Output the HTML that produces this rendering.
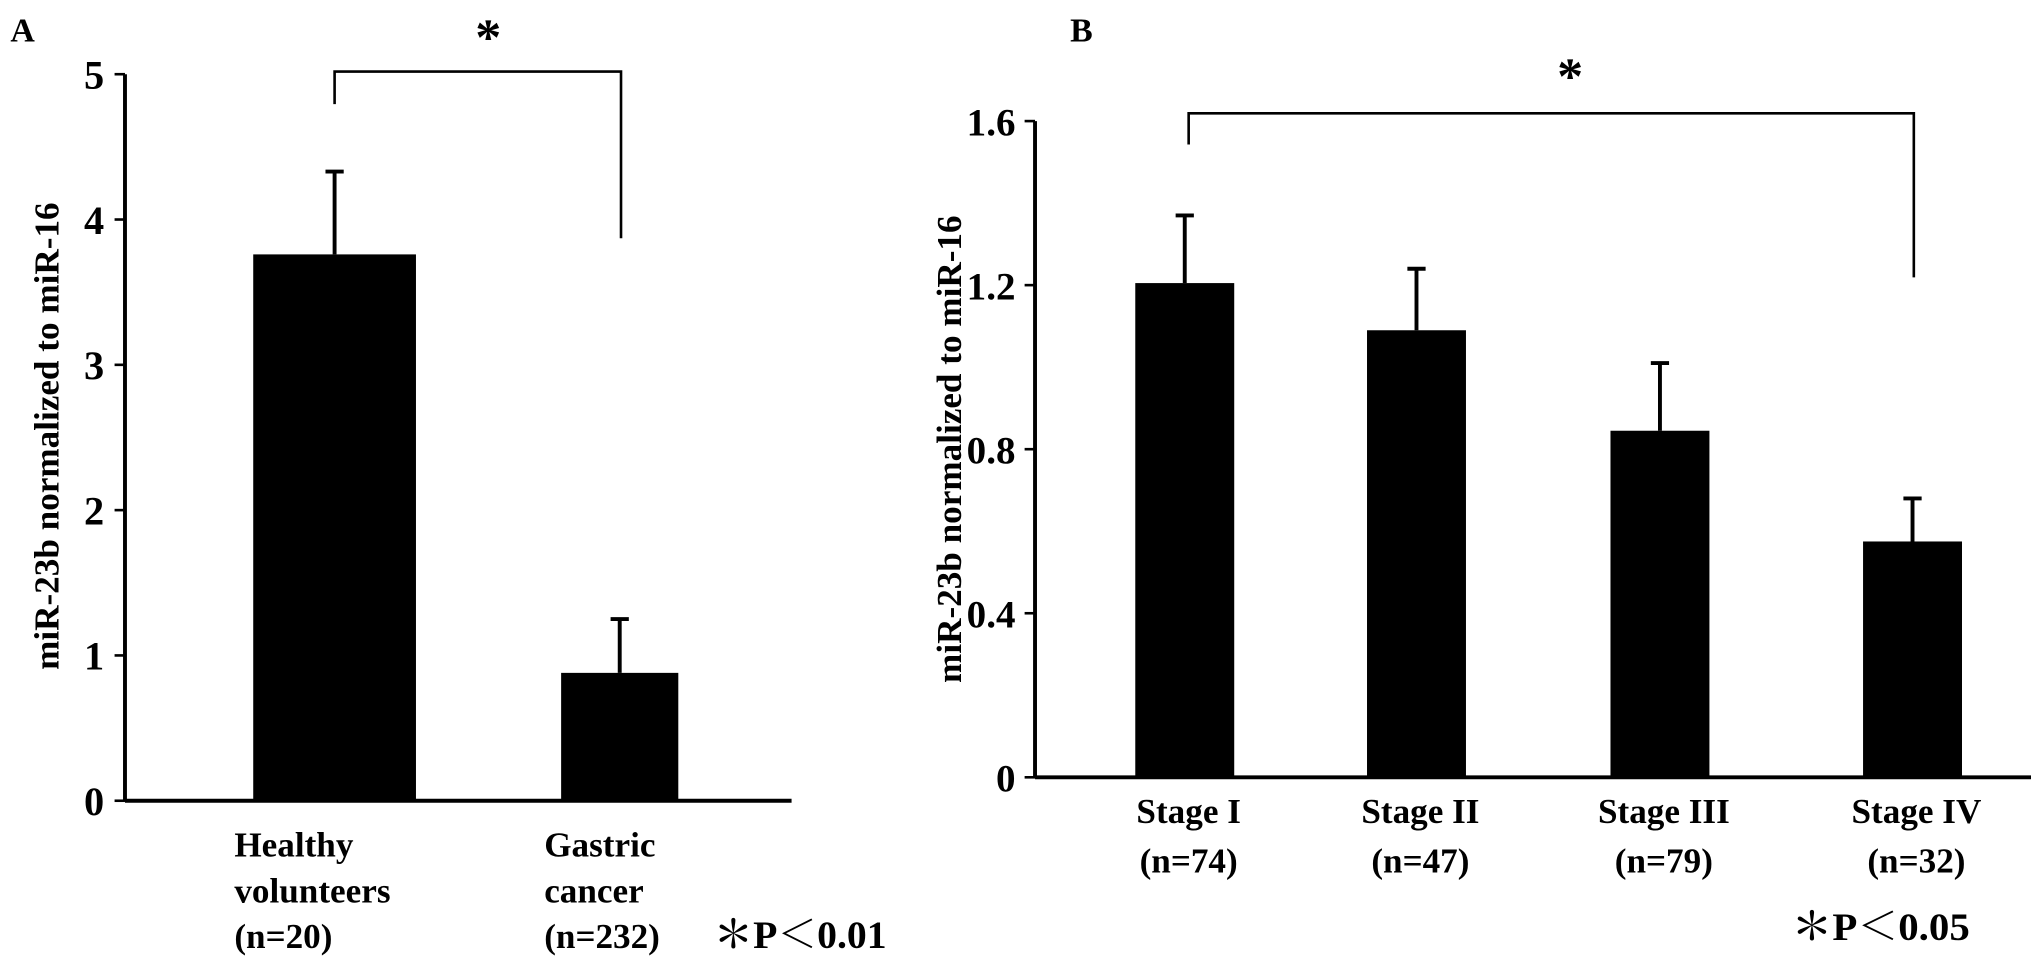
<!DOCTYPE html>
<html><head><meta charset="utf-8"><style>
body{margin:0;background:#fff;overflow:hidden}
svg{display:block}
svg text{font-family:"Liberation Serif","Noto Serif CJK SC",serif;font-weight:bold;fill:#000}
</style></head><body>
<svg width="2031" height="970" viewBox="0 0 1560 745" preserveAspectRatio="none">
<g id="A"></g>
<g id="B"></g>
</svg>
<script>
const catsA=["Healthy volunteers (n=20)","Gastric cancer (n=232)"];
const valsA=[3.76,0.88];
const errA=[0.57,0.37];
const ticksA=[0,1,2,3,4,5];
const catsB=["Stage I (n=74)","Stage II (n=47)","Stage III (n=79)","Stage IV (n=32)"];
const valsB=[1.205,1.09,0.845,0.575];
const errB=[0.165,0.15,0.165,0.105];
const ticksB=[0,0.4,0.8,1.2,1.6];
const NS="http://www.w3.org/2000/svg";
function mk(p,t,a,txt){const e=document.createElementNS(NS,t);for(const k in a)e.setAttribute(k,a[k]);if(txt!==undefined)e.textContent=txt;p.appendChild(e);return e;}
// Panel A
const A=document.getElementById('A');
const yA=v=>615-v*111.6;
const xAc=[257,476],bwA=[125,90];
let t=mk(A,'text',{x:8,y:32,'font-size':26},'A');


let l=mk(A,'line',{x1:96,y1:yA(5),x2:96,y2:615,stroke:'#000','stroke-width':3});


l=mk(A,'line',{x1:96,y1:615,x2:608,y2:615,stroke:'#000','stroke-width':3});


ticksA.forEach(v=>{
 mk(A,'line',{x1:88,y1:yA(v),x2:96,y2:yA(v),stroke:'#000','stroke-width':2});
 const tt=mk(A,'text',{x:80,y:yA(v)+11,'font-size':31,'text-anchor':'end'},v);
 
 
});
t=mk(A,'text',{x:0,y:0,'font-size':27,'text-anchor':'middle',transform:'translate(45,335) rotate(-90)'},'miR-23b normalized to miR-16');


valsA.forEach((v,i)=>{
 const r=mk(A,'rect',{x:xAc[i]-bwA[i]/2,y:yA(v),width:bwA[i],height:615-yA(v),fill:'#000'});
 
 
 const e=mk(A,'path',{d:`M${xAc[i]} ${yA(v)}V${yA(v+errA[i])}M${xAc[i]-7} ${yA(v+errA[i])}H${xAc[i]+7}`,stroke:'#000','stroke-width':3,fill:'none'});
 
 
});
const labA=[["Healthy","volunteers","(n=20)"],["Gastric","cancer","(n=232)"]];
const lxA=[180,418];
labA.forEach((ls,i)=>ls.forEach((s,j)=>{
 const tt=mk(A,'text',{x:lxA[i],y:658+j*35,'font-size':27},s);
 
 
}));
t=mk(A,'text',{x:548,y:728,'font-size':30,textLength:133,lengthAdjust:'spacingAndGlyphs'},'＊P＜0.01');


l=mk(A,'path',{d:'M257 80V55H477V183',stroke:'#000','stroke-width':2,fill:'none'});


t=mk(A,'text',{x:375,y:42,'font-size':40,'text-anchor':'middle'},'*');


// Panel B
const B=document.getElementById('B');
const yB=v=>597-v*315;
const xBc=[910,1088,1275,1469],bwB=76;
t=mk(B,'text',{x:822,y:32,'font-size':26},'B');


l=mk(B,'line',{x1:795,y1:yB(1.6),x2:795,y2:597,stroke:'#000','stroke-width':3});


l=mk(B,'line',{x1:795,y1:597,x2:1600,y2:597,stroke:'#000','stroke-width':3});


ticksB.forEach(v=>{
 mk(B,'line',{x1:787,y1:yB(v),x2:795,y2:yB(v),stroke:'#000','stroke-width':2});
 const tt=mk(B,'text',{x:780,y:yB(v)+11,'font-size':30,'text-anchor':'end'},v===0?'0':v.toFixed(1));
 
 
});
t=mk(B,'text',{x:0,y:0,'font-size':27,'text-anchor':'middle',transform:'translate(738,345) rotate(-90)'},'miR-23b  normalized to miR-16');


valsB.forEach((v,i)=>{
 const r=mk(B,'rect',{x:xBc[i]-bwB/2,y:yB(v),width:bwB,height:597-yB(v),fill:'#000'});
 
 
 const e=mk(B,'path',{d:`M${xBc[i]} ${yB(v)}V${yB(v+errB[i])}M${xBc[i]-7} ${yB(v+errB[i])}H${xBc[i]+7}`,stroke:'#000','stroke-width':3,fill:'none'});
 
 
});
catsB.forEach((c,i)=>{
 const p=c.split(' (');
 let tt=mk(B,'text',{x:xBc[i]+3,y:632,'font-size':27,'text-anchor':'middle'},p[0]);
 
 
 tt=mk(B,'text',{x:xBc[i]+3,y:670,'font-size':27,'text-anchor':'middle'},'('+p[1]);
 
 
});
t=mk(B,'text',{x:1376,y:722,'font-size':30,textLength:137,lengthAdjust:'spacingAndGlyphs'},'＊P＜0.05');


l=mk(B,'path',{d:'M913 111V87H1470V213',stroke:'#000','stroke-width':2,fill:'none'});


t=mk(B,'text',{x:1206,y:72,'font-size':40,'text-anchor':'middle'},'*');


</script>
</body></html>
